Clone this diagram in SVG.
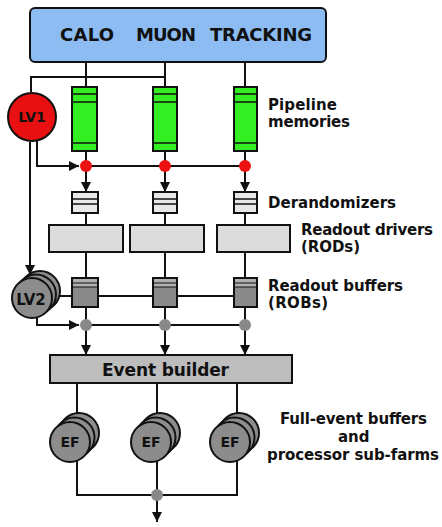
<svg xmlns="http://www.w3.org/2000/svg" width="442" height="527" viewBox="0 0 442 527">
<style>
.ln{stroke:#111;stroke-width:2;fill:none}
.bx{stroke:#111;stroke-width:2}
.lbl{font-family:"DejaVu Sans",Verdana,sans-serif;font-size:15px;font-weight:bold;fill:#111}
.lv{font-family:"DejaVu Sans",Verdana,sans-serif;font-weight:bold;fill:#111;text-anchor:middle}
.grn{fill:#33ee22}
.drd{fill:#e8e8e8}
.rod{fill:#dcdcdc}
.rob{fill:#8a8a8a}
.gc{fill:#8c8c8c;stroke:#111;stroke-width:2}
</style>
<defs>
<marker id="ah" viewBox="0 0 10 10" refX="10" refY="5" markerWidth="5" markerHeight="5" orient="auto" markerUnits="strokeWidth">
<path d="M0,0 L10,5 L0,10 z" fill="#111"/>
</marker>
</defs>
<rect width="442" height="527" fill="#fff"/>

<g id="detectors">
<rect x="30" y="8" width="296" height="54" rx="5" fill="#8cbcf2" class="bx"/>
<text x="60" y="41" class="lbl" style="font-size:18px" textLength="54">CALO</text>
<text x="136" y="41" class="lbl" style="font-size:18px" textLength="60">MUON</text>
<text x="210" y="41" class="lbl" style="font-size:18px" textLength="102">TRACKING</text>
</g>

<g id="connectors">
<line x1="86" y1="62" x2="86" y2="87" class="ln"/>
<line x1="165" y1="62" x2="165" y2="87" class="ln"/>
<line x1="245" y1="62" x2="245" y2="87" class="ln"/>
<polyline points="31,92 31,77 165,77" class="ln"/>
<line x1="86" y1="151" x2="86" y2="166" class="ln"/>
<line x1="165" y1="151" x2="165" y2="166" class="ln"/>
<line x1="245" y1="151" x2="245" y2="166" class="ln"/>
<polyline points="37,141 37,166 79,166" class="ln" marker-end="url(#ah)"/>
<line x1="86" y1="166" x2="245" y2="166" class="ln"/>
<line x1="86" y1="166" x2="86" y2="192" class="ln" marker-end="url(#ah)"/>
<line x1="165" y1="166" x2="165" y2="192" class="ln" marker-end="url(#ah)"/>
<line x1="245" y1="166" x2="245" y2="192" class="ln" marker-end="url(#ah)"/>
<line x1="86" y1="213" x2="86" y2="225" class="ln"/>
<line x1="165" y1="213" x2="165" y2="225" class="ln"/>
<line x1="245" y1="213" x2="245" y2="225" class="ln"/>
<line x1="86" y1="252" x2="86" y2="278" class="ln"/>
<line x1="165" y1="252" x2="165" y2="278" class="ln"/>
<line x1="245" y1="252" x2="245" y2="278" class="ln"/>
<line x1="30" y1="142" x2="30" y2="275" class="ln" marker-end="url(#ah)"/>
<line x1="55" y1="296" x2="234" y2="296" class="ln"/>
<line x1="86" y1="307" x2="86" y2="325" class="ln"/>
<line x1="165" y1="307" x2="165" y2="325" class="ln"/>
<line x1="245" y1="307" x2="245" y2="325" class="ln"/>
<polyline points="37,316 37,325 79,325" class="ln" marker-end="url(#ah)"/>
<line x1="86" y1="325" x2="245" y2="325" class="ln"/>
<line x1="86" y1="325" x2="86" y2="355" class="ln" marker-end="url(#ah)"/>
<line x1="165" y1="325" x2="165" y2="355" class="ln" marker-end="url(#ah)"/>
<line x1="245" y1="325" x2="245" y2="355" class="ln" marker-end="url(#ah)"/>
<line x1="77" y1="383" x2="77" y2="415" class="ln"/>
<line x1="157" y1="383" x2="157" y2="415" class="ln"/>
<line x1="237" y1="383" x2="237" y2="415" class="ln"/>
<polyline points="77,458 77,495 237,495 237,458" class="ln"/>
<line x1="157" y1="458" x2="157" y2="495" class="ln"/>
<line x1="157" y1="495" x2="157" y2="522" class="ln" marker-end="url(#ah)"/>
</g>

<g id="pipeline-memories">
<g>
<rect x="72" y="87" width="25" height="64" class="grn bx"/>
<path d="M72,94H97M72,102H97M72,143H97" class="ln" style="stroke-width:1.5"/>
</g>
<g>
<rect x="153" y="87" width="24" height="64" class="grn bx"/>
<path d="M153,94H177M153,102H177M153,143H177" class="ln" style="stroke-width:1.5"/>
</g>
<g>
<rect x="234" y="87" width="23" height="64" class="grn bx"/>
<path d="M234,94H257M234,102H257M234,143H257" class="ln" style="stroke-width:1.5"/>
</g>
<text class="lbl" x="268" y="110" textLength="69">Pipeline</text>
<text class="lbl" x="268" y="127" textLength="82">memories</text>
</g>

<g id="lv1">
<circle cx="32" cy="117" r="24" fill="#e81010" stroke="#111" stroke-width="2"/>
<text class="lv" x="32" y="122" style="font-size:14px">LV1</text>
</g>

<g id="red-dots" fill="#ee1111">
<circle cx="86" cy="166" r="6"/>
<circle cx="165" cy="166" r="6"/>
<circle cx="245" cy="166" r="6"/>
</g>

<g id="derandomizers">
<rect x="72" y="192" width="26" height="21" class="drd bx"/>
<path d="M72,199H98M72,204H98" class="ln" style="stroke-width:1.5"/>
<rect x="153" y="192" width="24" height="21" class="drd bx"/>
<path d="M153,199H177M153,204H177" class="ln" style="stroke-width:1.5"/>
<rect x="234" y="192" width="23" height="21" class="drd bx"/>
<path d="M234,199H257M234,204H257" class="ln" style="stroke-width:1.5"/>
<text class="lbl" x="268" y="208" textLength="128">Derandomizers</text>
</g>

<g id="rods">
<rect x="49" y="225" width="74" height="27" class="rod bx"/>
<rect x="130" y="225" width="74" height="27" class="rod bx"/>
<rect x="217" y="225" width="73" height="27" class="rod bx"/>
<text class="lbl" x="301" y="235" textLength="132">Readout drivers</text>
<text class="lbl" x="301" y="252" textLength="59">(RODs)</text>
</g>

<g id="robs">
<g>
<rect x="72" y="278" width="26" height="29" class="rob bx"/>
<rect x="73" y="279" width="24" height="8" fill="#b0b0b0"/>
<path d="M72,283H98M72,287H98" class="ln" style="stroke-width:1.2"/>
</g>
<g>
<rect x="153" y="278" width="24" height="29" class="rob bx"/>
<rect x="154" y="279" width="22" height="8" fill="#b0b0b0"/>
<path d="M153,283H177M153,287H177" class="ln" style="stroke-width:1.2"/>
</g>
<g>
<rect x="234" y="278" width="23" height="29" class="rob bx"/>
<rect x="235" y="279" width="21" height="8" fill="#b0b0b0"/>
<path d="M234,283H257M234,287H257" class="ln" style="stroke-width:1.2"/>
</g>
<text class="lbl" x="268" y="291" textLength="135">Readout buffers</text>
<text class="lbl" x="268" y="308" textLength="60">(ROBs)</text>
</g>

<g id="lv2">
<circle cx="40" cy="291" r="20" class="gc"/>
<circle cx="36" cy="294.5" r="20" class="gc"/>
<circle cx="32" cy="298" r="20" class="gc"/>
<text class="lv" x="31" y="305" style="font-size:15px">LV2</text>
</g>

<g id="grey-dots" fill="#888">
<circle cx="86" cy="325" r="6"/>
<circle cx="165" cy="325" r="6"/>
<circle cx="245" cy="325" r="6"/>
<circle cx="157" cy="495" r="6"/>
</g>

<g id="event-builder">
<rect x="50" y="355" width="242" height="28" fill="#bdbdbd" class="bx"/>
<text x="102" y="376" class="lbl" style="font-size:17px" textLength="127">Event builder</text>
</g>

<g id="ef-farms">
<g id="ef1">
<circle cx="79" cy="433" r="20" class="gc"/>
<circle cx="74.5" cy="437.5" r="20" class="gc"/>
<circle cx="70" cy="442" r="20" class="gc"/>
<text class="lv" x="70" y="447" style="font-size:14px">EF</text>
</g>
<g id="ef2">
<circle cx="160" cy="433" r="20" class="gc"/>
<circle cx="155.5" cy="437.5" r="20" class="gc"/>
<circle cx="151" cy="442" r="20" class="gc"/>
<text class="lv" x="151" y="447" style="font-size:14px">EF</text>
</g>
<g id="ef3">
<circle cx="239" cy="433" r="20" class="gc"/>
<circle cx="234.5" cy="437.5" r="20" class="gc"/>
<circle cx="230" cy="442" r="20" class="gc"/>
<text class="lv" x="230" y="447" style="font-size:14px">EF</text>
</g>
<text class="lbl" x="280" y="424" textLength="147">Full-event buffers</text>
<text class="lbl" x="338" y="442">and</text>
<text class="lbl" x="267" y="460" textLength="172">processor sub-farms</text>
</g>
</svg>
